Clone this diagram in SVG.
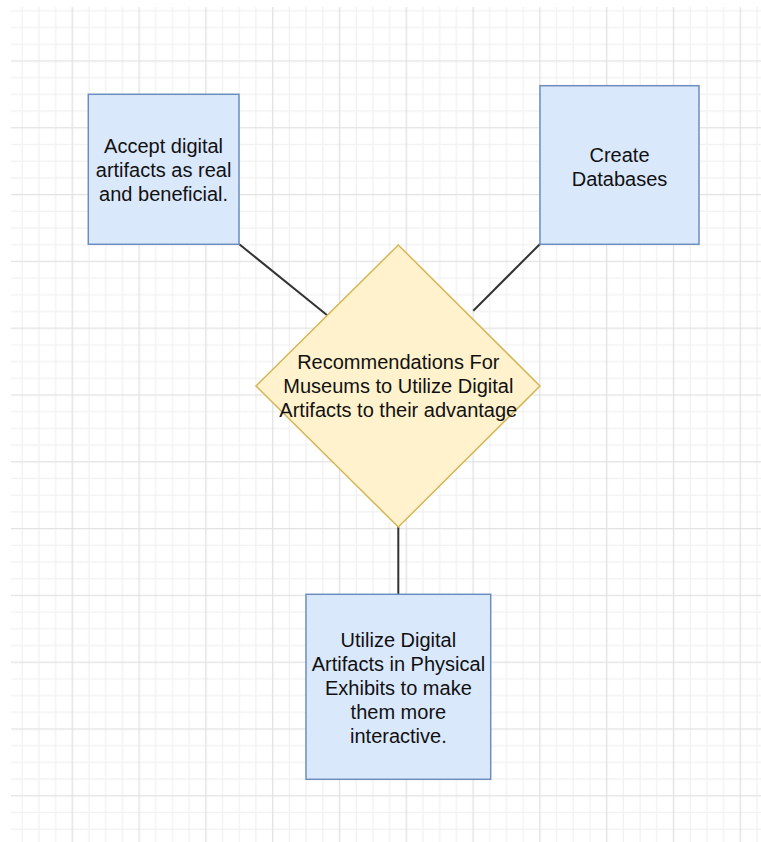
<svg xmlns="http://www.w3.org/2000/svg" width="761" height="842" viewBox="0 0 761 842">
  <style>
    .box { fill: #dae8fc; stroke: #6c8ebf; stroke-width: 1.5; }
    .dia { fill: #fff2cc; stroke: #d6b656; stroke-width: 1.5; }
    .lbl { font-family: "Liberation Sans", Arial, Helvetica, sans-serif; font-size: 20px; fill: #111; text-anchor: middle; }
    .conn { stroke: #333; stroke-width: 2; fill: none; }
    .minor { stroke: #f1f1f1; stroke-width: 1.3; }
    .major { stroke: #e2e2e2; stroke-width: 1.4; }
  </style>
  <defs>
    <pattern id="grid" patternUnits="userSpaceOnUse" x="13.85" y="2.55" width="66.8" height="66.8">
      <path class="minor" d="M8.35 0V66.8M25.05 0V66.8M41.75 0V66.8M0 8.35H66.8M0 25.05H66.8M0 41.75H66.8"/>
      <path class="major" d="M58.45 0V66.8M0 58.45H66.8"/>
    </pattern>
  </defs>
  <rect width="761" height="842" fill="#ffffff"/>
  <rect x="11" y="7" width="750" height="835" fill="url(#grid)"/>

  <g id="connectors">
    <line class="conn" x1="239" y1="244" x2="327.5" y2="315.5"/>
    <line class="conn" x1="540" y1="244" x2="473.3" y2="310.7"/>
    <line class="conn" x1="398.3" y1="527" x2="398.3" y2="594.5"/>
  </g>

  <g id="node-accept">
    <rect class="box" x="88.3" y="94.3" width="150.7" height="150"/>
    <text class="lbl" x="163.6" y="152.5">Accept digital</text>
    <text class="lbl" x="163.6" y="176.5">artifacts as real</text>
    <text class="lbl" x="163.6" y="200.5">and beneficial.</text>
  </g>

  <g id="node-databases">
    <rect class="box" x="540" y="85.7" width="159" height="158.6"/>
    <text class="lbl" x="619.5" y="161.5">Create</text>
    <text class="lbl" x="619.5" y="185.5">Databases</text>
  </g>

  <g id="node-recommendations">
    <polygon class="dia" points="398.3,245 540,386 398.3,527 256,386"/>
    <text class="lbl" x="398.3" y="368.5">Recommendations For</text>
    <text class="lbl" x="398.3" y="392.5">Museums to Utilize Digital</text>
    <text class="lbl" x="398.3" y="416.5">Artifacts to their advantage</text>
  </g>

  <g id="node-utilize">
    <rect class="box" x="306" y="594.3" width="184.7" height="185"/>
    <text class="lbl" x="398.4" y="646.5">Utilize Digital</text>
    <text class="lbl" x="398.4" y="670.5">Artifacts in Physical</text>
    <text class="lbl" x="398.4" y="694.5">Exhibits to make</text>
    <text class="lbl" x="398.4" y="718.5">them more</text>
    <text class="lbl" x="398.4" y="742.5">interactive.</text>
  </g>
</svg>
